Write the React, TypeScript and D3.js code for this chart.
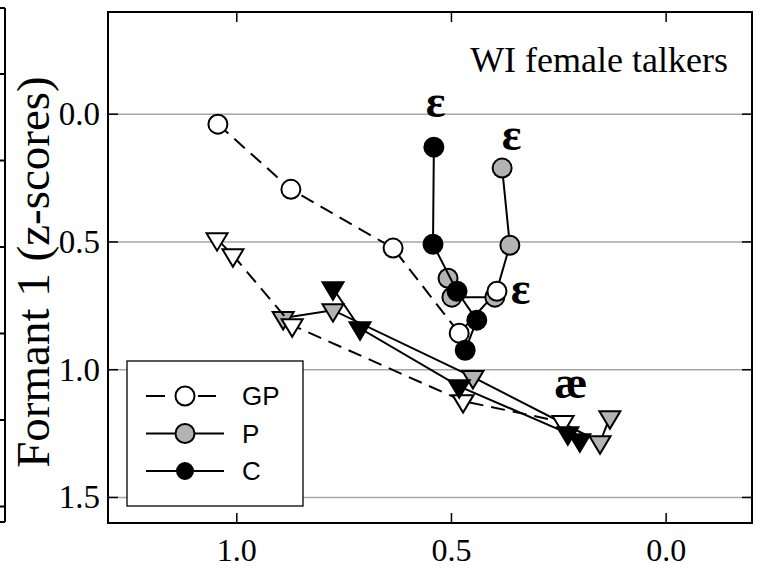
import React from 'react';
import * as d3 from 'd3';

const xTicks = [1.0, 0.5, 0.0];
const yTicks = [0.0, 0.5, 1.0, 1.5];
const xTickLabels = ['1.0', '0.5', '0.0'];
const yTickLabels = ['0.0', '0.5', '1.0', '1.5'];

// GP (white, dashed)
const gpCircX = [1.044, 0.874, 0.636, 0.482, 0.394];
const gpCircY = [0.039, 0.294, 0.524, 0.857, 0.693];
const gpTriX = [1.046, 1.009, 0.871, 0.473, 0.240];
const gpTriY = [0.489, 0.552, 0.826, 1.123, 1.205];
// P (gray, solid)
const pCircX = [0.382, 0.364, 0.399, 0.499, 0.508];
const pCircY = [0.211, 0.513, 0.716, 0.716, 0.642];
const pTriX = [0.892, 0.776, 0.450, 0.154, 0.131];
const pTriY = [0.798, 0.767, 1.029, 1.284, 1.186];
// C (black, solid)
const cCircX = [0.541, 0.543, 0.487, 0.441, 0.468];
const cCircY = [0.129, 0.509, 0.693, 0.806, 0.924];
const cTriX = [0.776, 0.713, 0.482, 0.229, 0.201];
const cTriY = [0.681, 0.838, 1.065, 1.249, 1.276];

const legendLabels = ['GP', 'P', 'C'];
const vowelLabels = ['ε', 'ε', 'ε', 'æ'];
const vowelLabelX = [0.537, 0.360, 0.339, 0.222];
const vowelLabelY = [0.012, 0.142, 0.744, 1.112];

const W = 768, H = 570;
const L = 108, R = 752, T = 12, B = 523;

const x = d3.scaleLinear().domain([1.3, -0.2]).range([L, R]);
const y = d3.scaleLinear().domain([-0.4, 1.6]).range([T, B]);

const serif = '"Liberation Serif", "Times New Roman", Times, serif';
const sans = '"Liberation Sans", Arial, Helvetica, sans-serif';

type Series = { cx: number[]; cy: number[]; tx: number[]; ty: number[]; fill: string; dash?: string };

const series: Series[] = [
  { cx: pCircX, cy: pCircY, tx: pTriX, ty: pTriY, fill: '#b3b3b3' },
  { cx: gpCircX, cy: gpCircY, tx: gpTriX, ty: gpTriY, fill: '#ffffff', dash: '14,8' },
  { cx: cCircX, cy: cCircY, tx: cTriX, ty: cTriY, fill: '#000000' },
];

const line = d3.line<[number, number]>().x(d => x(d[0])).y(d => y(d[1]));
const tri = 'M-10.5,-6L10.5,-6L0,11.5Z';

export default function App() {
  const leftTicks = [74, 160.5, 247, 333.5, 420, 506.5];
  return (
    <svg width={W} height={H} style={{ position: 'absolute', left: 0, top: 0, background: '#fff' }}>
      <rect x={0} y={0} width={W} height={H} fill="#fff" />
      {/* left neighbouring panel edge */}
      <g stroke="#000" strokeWidth={2} fill="none">
        <line x1={-5} x2={5} y1={8} y2={8} />
        <line x1={-5} x2={5} y1={522} y2={522} />
        <line x1={5} x2={5} y1={8} y2={522} />
        {leftTicks.map((t, i) => <line key={i} x1={-5} x2={5} y1={t} y2={t} />)}
      </g>
      {/* grid */}
      {yTicks.map((t, i) => (
        <line key={'g' + i} x1={L} x2={R} y1={y(t)} y2={y(t)} stroke="#a6a6a6" strokeWidth={1.5} />
      ))}
      {/* series */}
      {series.map((s, si) => {
        const cPts = s.cx.map((v, i) => [v, s.cy[i]] as [number, number]);
        const tPts = s.tx.map((v, i) => [v, s.ty[i]] as [number, number]);
        return (
          <g key={si}>
            <path d={line(cPts) || ''} fill="none" stroke="#000" strokeWidth={2} strokeDasharray={s.dash} />
            <path d={line(tPts) || ''} fill="none" stroke="#000" strokeWidth={2} strokeDasharray={s.dash} />
            {tPts.map((p, i) => (
              <path key={'t' + i} d={tri} transform={`translate(${x(p[0])},${y(p[1])})`} fill={s.fill} stroke="#000" strokeWidth={2} />
            ))}
            {cPts.map((p, i) => (
              <circle key={'c' + i} cx={x(p[0])} cy={y(p[1])} r={9.5} fill={s.fill} stroke="#000" strokeWidth={2} />
            ))}
          </g>
        );
      })}
      {/* vowel labels */}
      {vowelLabels.map((l, i) => (
        <text key={'v' + i} x={x(vowelLabelX[i])} y={y(vowelLabelY[i])} textAnchor="middle" fontFamily={serif} fontWeight="bold" fontSize={46}>{l}</text>
      ))}
      {/* title */}
      <text x={728} y={72} textAnchor="end" fontFamily={serif} fontSize={36}>WI female talkers</text>
      {/* legend */}
      <rect x={127} y={361} width={176} height={145} fill="#fff" stroke="#000" strokeWidth={1.3} />
      <line x1={146} x2={216} y1={396} y2={396} stroke="#000" strokeWidth={2} strokeDasharray="19,33,18" />
      <circle cx={185} cy={396} r={9.5} fill="#fff" stroke="#000" strokeWidth={2} />
      <line x1={146} x2={224} y1={433.5} y2={433.5} stroke="#000" strokeWidth={2} />
      <circle cx={185} cy={433.5} r={9.5} fill="#b3b3b3" stroke="#000" strokeWidth={2} />
      <line x1={146} x2={224} y1={471} y2={471} stroke="#000" strokeWidth={2} />
      <circle cx={185} cy={471} r={8} fill="#000" stroke="#000" strokeWidth={2} />
      {legendLabels.map((l, i) => (
        <text key={'l' + i} x={242} y={405 + i * 37.5} fontFamily={sans} fontSize={26}>{l}</text>
      ))}
      {/* frame */}
      <rect x={L} y={T} width={R - L} height={B - T} fill="none" stroke="#000" strokeWidth={2} />
      {/* ticks */}
      {xTicks.map((t, i) => (
        <g key={'xt' + i}>
          <line x1={x(t)} x2={x(t)} y1={B} y2={B - 10} stroke="#000" strokeWidth={1.5} />
          <line x1={x(t)} x2={x(t)} y1={T} y2={T + 10} stroke="#000" strokeWidth={1.5} />
          <text x={x(t)} y={561} textAnchor="middle" fontFamily={serif} fontSize={32}>{xTickLabels[i]}</text>
        </g>
      ))}
      {yTicks.map((t, i) => (
        <g key={'yt' + i}>
          <line x1={L} x2={L + 10} y1={y(t)} y2={y(t)} stroke="#000" strokeWidth={1.5} />
          <line x1={R} x2={R - 10} y1={y(t)} y2={y(t)} stroke="#000" strokeWidth={1.5} />
          <text x={100} y={y(t) + 11} textAnchor="end" fontFamily={serif} fontSize={33}>{yTickLabels[i]}</text>
        </g>
      ))}
      {/* axis title */}
      <text transform="translate(49,272) rotate(-90)" textAnchor="middle" fontFamily={serif} fontSize={47}>Formant 1 (z-scores)</text>
    </svg>
  );
}
